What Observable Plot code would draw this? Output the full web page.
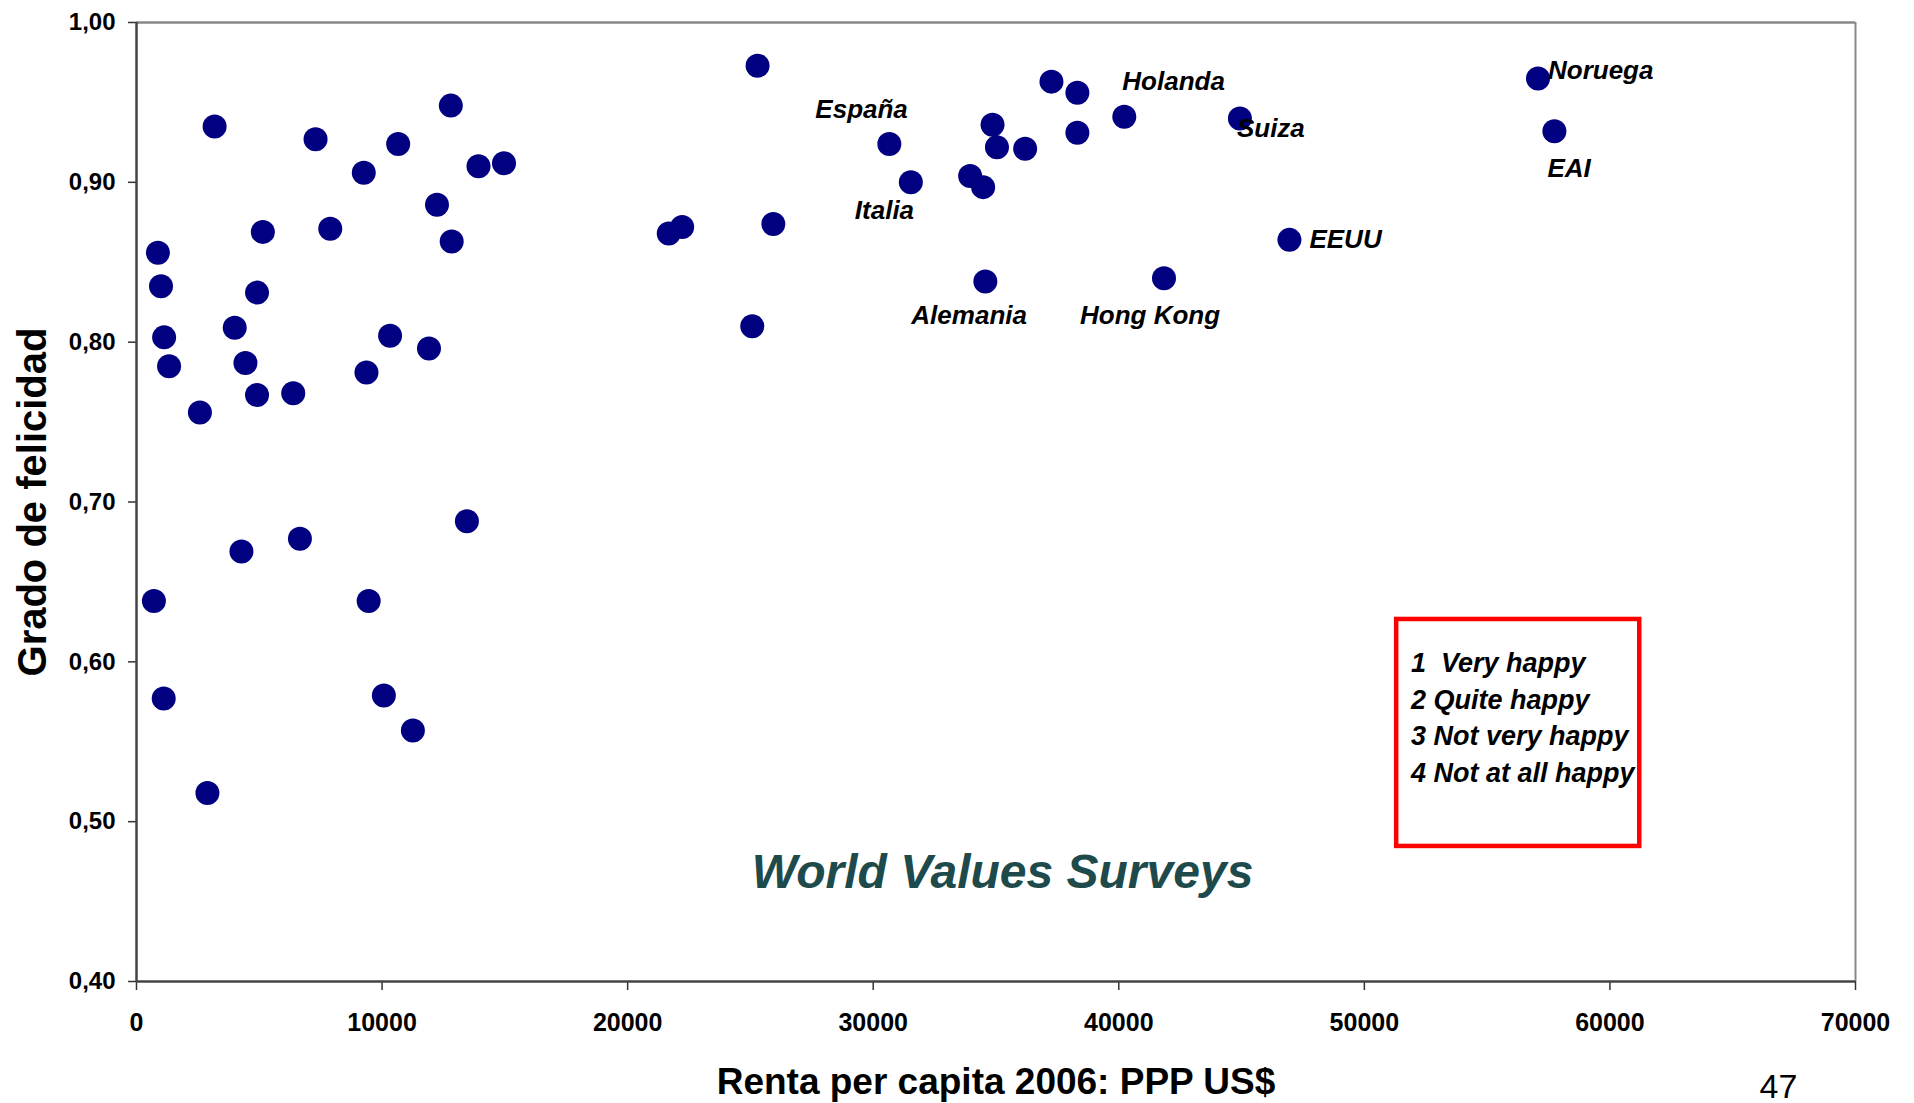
<!DOCTYPE html>
<html>
<head>
<meta charset="utf-8">
<script src="https://cdn.jsdelivr.net/npm/d3@7"></script>
<script src="https://cdn.jsdelivr.net/npm/@observablehq/plot@0.6"></script>
<style>
  body { margin: 0; background: #fff; }
  #chart svg { display: block; }
</style>
</head>
<body>
<div id="chart"></div>
<script>
// ---- Data ----
const renta = [
  709, 872, 998, 1108, 1125, 1326, 2582, 2888, 3181, 4000,
  4273, 4436, 4908, 4908, 5145, 6383, 6655, 7291, 7890, 9255,
  9364, 9454, 10073, 10326, 10656, 11255, 11910, 12236, 12800, 12835,
  13455, 13927, 14965, 21674, 22220, 25075, 25291, 25931, 30656, 31532,
  33947, 34476, 34566, 34859, 35039, 36187, 37258, 38314, 38314, 40224,
  41841, 44933, 46949, 57071, 57739
];
const felicidad = [
  0.638, 0.856, 0.835, 0.577, 0.803, 0.785, 0.756, 0.518, 0.935, 0.809,
  0.669, 0.787, 0.831, 0.767, 0.869, 0.768, 0.677, 0.927, 0.871, 0.906,
  0.781, 0.638, 0.579, 0.804, 0.924, 0.557, 0.796, 0.886, 0.948, 0.863,
  0.688, 0.910, 0.912, 0.868, 0.872, 0.810, 0.973, 0.874, 0.924, 0.900,
  0.904, 0.897, 0.838, 0.936, 0.922, 0.921, 0.963, 0.956, 0.931, 0.941,
  0.840, 0.940, 0.864, 0.965, 0.932
];
const pais = [
  "", "", "", "", "", "", "", "", "", "",
  "", "", "", "", "", "", "", "", "", "",
  "", "", "", "", "", "", "", "", "", "",
  "", "", "", "", "", "", "", "", "España", "Italia",
  "", "", "Alemania", "", "", "", "", "", "", "Holanda",
  "Hong Kong", "Suiza", "EEUU", "Noruega", "EAI"
];
const xTicks = [0, 10000, 20000, 30000, 40000, 50000, 60000, 70000];
const yTicks = [0.4, 0.5, 0.6, 0.7, 0.8, 0.9, 1.0];
const xTitle = "Renta per capita 2006: PPP US$";
const yTitle = "Grado de felicidad";
const sourceText = "World Values Surveys";
const legendLines = ["1\u00a0 Very happy", "2 Quite happy", "3 Not very happy", "4 Not at all happy"];
const pageNumber = "47";

// ---- Build table ----
const data = renta.map((r, i) => ({renta: r, felicidad: felicidad[i], pais: pais[i]}));
const labeled = data.filter(d => d.pais);

// label placement relative to each dot (pixels), text anchored at start, baseline
const labelOffsets = {
  "España": [-74, -26],
  "Italia": [-56, 37],
  "Alemania": [-74, 43],
  "Hong Kong": [-84, 46],
  "Holanda": [-2, -27],
  "Suiza": [-3, 19],
  "EEUU": [20, 8],
  "Noruega": [10, 1],
  "EAI": [-7, 46]
};

// annotation anchors (data units)
const legendBox = [{x1: 51316, x2: 61214, y1: 0.6265, y2: 0.4845}];
const legendAnchor = [{x: 51900, y: 0.6100, t: legendLines.join("\n")}];
const sourceAnchor = [{x: 35267, y: 0.4588, t: sourceText}];

const font = "'Liberation Sans', Arial, Helvetica, sans-serif";
const fmtY = d => d.toFixed(2).replace(".", ",");

const chart = Plot.plot({
  width: 1914,
  height: 1103,
  marginLeft: 136,
  marginRight: 59,
  marginTop: 22,
  marginBottom: 122,
  style: {fontFamily: font, fontWeight: "bold", background: "#fff", color: "#000"},
  x: {domain: [0, 70000]},
  y: {domain: [0.4, 1.0]},
  marks: [
    Plot.ruleY([1.0], {stroke: "#888", strokeWidth: 2.5}),
    Plot.ruleX([70000], {stroke: "#888", strokeWidth: 2}),
    Plot.axisX({ticks: xTicks, tickFormat: d => String(d), tickSize: 9, tickPadding: 23,
      fontSize: 25, label: null, stroke: "#333", strokeWidth: 1.5}),
    Plot.axisY({ticks: yTicks, tickFormat: fmtY, tickSize: 8, tickPadding: 13,
      fontSize: 24, label: null, stroke: "#333", strokeWidth: 1.5}),
    Plot.ruleX([0], {stroke: "#444", strokeWidth: 2.5}),
    Plot.ruleY([0.4], {stroke: "#444", strokeWidth: 2.5}),
    Plot.rect(legendBox, {x1: "x1", x2: "x2", y1: "y1", y2: "y2", fill: "none", stroke: "#ff0000", strokeWidth: 4.5}),
    Plot.text(legendAnchor, {x: "x", y: "y", text: "t", textAnchor: "start", lineAnchor: "top",
      lineHeight: 1.36, fontSize: 27, fontStyle: "italic", fill: "#000"}),
    Plot.text(sourceAnchor, {x: "x", y: "y", text: "t", textAnchor: "middle", lineAnchor: "bottom",
      fontSize: 48, fontStyle: "italic", fill: "#1e4a4c"}),
    Plot.dot(data, {x: "renta", y: "felicidad", r: 12, fill: "#000080", stroke: null}),
    ...labeled.map(d => Plot.text([d], {
      x: "renta", y: "felicidad", text: "pais",
      dx: labelOffsets[d.pais][0], dy: labelOffsets[d.pais][1],
      textAnchor: "start", lineAnchor: "bottom",
      fontSize: 26, fontStyle: "italic", fill: "#000"
    })),
    Plot.text([xTitle], {text: d => d, frameAnchor: "bottom", dy: 112, lineAnchor: "bottom",
      fontSize: 37, fill: "#000"}),
    Plot.text([yTitle], {text: d => d, frameAnchor: "left", dx: -103, rotate: -90,
      textAnchor: "middle", lineAnchor: "middle", fontSize: 40, fill: "#000"}),
    Plot.text([pageNumber], {text: d => d, frameAnchor: "bottom-right", dx: -96, dy: 116,
      textAnchor: "start", lineAnchor: "bottom", fontSize: 34, fontWeight: "normal", fill: "#000"})
  ]
});

document.getElementById("chart").append(chart);
</script>
</body>
</html>
